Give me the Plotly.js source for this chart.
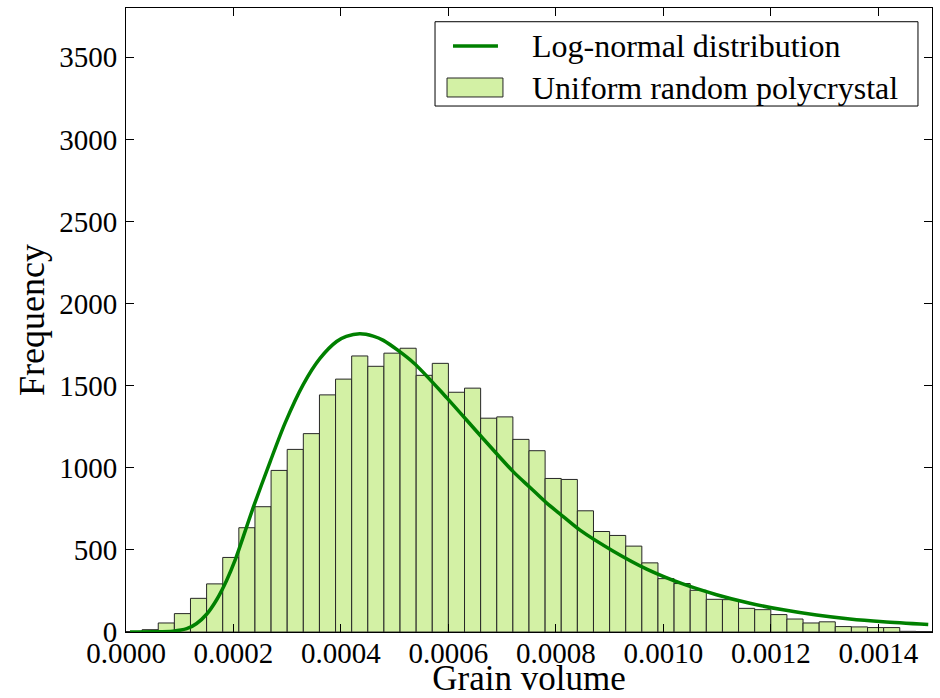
<!DOCTYPE html>
<html>
<head>
<meta charset="utf-8">
<script src="https://cdn.plot.ly/plotly-3.0.1.min.js"></script>
<style>
html,body{margin:0;padding:0;background:#fff;}
#chart{width:940px;height:698px;}
</style>
</head>
<body>
<div id="chart"></div>
<script>
// Histogram bins (centres of 0.00003-wide bins) and counts
const binCenters = [
  0.000015,0.000045,0.000075,0.000105,0.000135,0.000165,0.000195,0.000225,0.000255,0.000285,
  0.000315,0.000345,0.000375,0.000405,0.000435,0.000465,0.000495,0.000525,0.000555,0.000585,
  0.000615,0.000645,0.000675,0.000705,0.000735,0.000765,0.000795,0.000825,0.000855,0.000885,
  0.000915,0.000945,0.000975,0.001005,0.001035,0.001065,0.001095,0.001125,0.001155,0.001185,
  0.001215,0.001245,0.001275,0.001305,0.001335,0.001365,0.001395,0.001425,0.001455,0.001485
];
const binWidth = 0.00003;
const counts = [
  3,14,55,112,205,293,454,635,763,984,
  1112,1208,1444,1540,1681,1618,1698,1728,1563,1636,
  1460,1485,1302,1310,1173,1104,935,929,738,612,
  588,523,421,325,295,254,199,197,144,136,
  106,79,55,62,33,31,27,27,4,3
];

// Log-normal fit curve
const curveX = [
  0.0000074,0.00005,0.0000875,0.000113,0.0001315,0.00015,0.000169,0.000187,0.000203,
  0.000237,0.000268,0.000296,0.000330,0.000361,0.000392,0.000410,0.000435,0.000460,0.000479,0.000535,
  0.000597,0.000659,0.000721,0.000752,0.000783,0.000807,0.000845,0.000907,0.000969,
  0.001035,0.001099,0.001161,0.001223,0.001285,0.001347,0.001409,0.001493
];
const curveY = [
  0,1,5,20,52,108,198,312,437,
  760,1035,1272,1508,1666,1769,1800,1816,1802,1776,1640,
  1426,1198,975,880,785,721,620,492,383,
  294,227,175,135,103,79,62,45
];

const xTickVals = [0,0.0002,0.0004,0.0006,0.0008,0.0010,0.0012,0.0014];
const yTickVals = [0,500,1000,1500,2000,2500,3000,3500];
const legendLabels = ['Log-normal distribution', 'Uniform random polycrystal'];

const serif = 'Liberation Serif, Times New Roman, serif';
const lineGreen = '#008000';
const barFill = '#d3f1a5';
const barEdge = '#262626';

const traces = [
  {
    type: 'scatter', mode: 'lines', name: legendLabels[0],
    x: curveX, y: curveY,
    line: {color: lineGreen, width: 3.5, shape: 'spline', smoothing: 0.8},
    hoverinfo: 'skip', showlegend: false
  },
  {
    type: 'bar', name: legendLabels[1],
    x: binCenters, y: counts, width: binWidth,
    marker: {color: barFill, line: {color: barEdge, width: 1}},
    hoverinfo: 'skip', showlegend: false
  }
];

const layout = {
  width: 940, height: 698,
  margin: {l: 126, r: 8, t: 8, b: 66, pad: 0},
  paper_bgcolor: '#ffffff', plot_bgcolor: '#ffffff',
  showlegend: false,
  bargap: 0,
  font: {family: serif, color: '#000', size: 29},
  xaxis: {
    range: [0, 0.0015],
    tickmode: 'array', tickvals: xTickVals,
    ticktext: xTickVals.map(v => v.toFixed(4)),
    ticks: 'inside', ticklen: 8, tickwidth: 1, tickcolor: '#000',
    ticklabelstandoff: -5,
    showline: true, linecolor: '#000', linewidth: 1, mirror: 'ticks',
    showgrid: false, zeroline: false,
    tickfont: {family: serif, size: 29, color: '#000'},
    title: {text: 'Grain volume', font: {family: serif, size: 35, color: '#000'}, standoff: 20}
  },
  yaxis: {
    range: [0, 3800],
    tickmode: 'array', tickvals: yTickVals,
    ticktext: yTickVals.map(v => String(v)),
    ticks: 'inside', ticklen: 8, tickwidth: 1, tickcolor: '#000',
    ticklabelstandoff: 2,
    showline: true, linecolor: '#000', linewidth: 1, mirror: 'ticks',
    showgrid: false, zeroline: false,
    tickfont: {family: serif, size: 29, color: '#000'},
    title: {text: 'Frequency', font: {family: serif, size: 36, color: '#000'}, standoff: 3}
  },
  // legend drawn as a framed box in plot-area fractions
  shapes: [
    {type: 'rect', xref: 'paper', yref: 'paper', x0: 0.3834, x1: 0.9826, y0: 0.8429, y1: 0.978,
     line: {color: '#000', width: 1}, fillcolor: '#ffffff', layer: 'above'},
    {type: 'line', xref: 'paper', yref: 'paper', x0: 0.4057, x1: 0.4615, y0: 0.9391, y1: 0.9391,
     line: {color: lineGreen, width: 3.5}, layer: 'above'},
    {type: 'rect', xref: 'paper', yref: 'paper', x0: 0.3983, x1: 0.4677, y0: 0.8574, y1: 0.8878,
     line: {color: barEdge, width: 1}, fillcolor: barFill, layer: 'above'}
  ],
  annotations: [
    {xref: 'paper', yref: 'paper', x: 0.5012, y: 0.9391, xanchor: 'left', yanchor: 'middle',
     text: legendLabels[0], showarrow: false, font: {family: serif, size: 32, color: '#000'}},
    {xref: 'paper', yref: 'paper', x: 0.5012, y: 0.8718, xanchor: 'left', yanchor: 'middle',
     text: legendLabels[1], showarrow: false, font: {family: serif, size: 32, color: '#000'}}
  ]
};

Plotly.newPlot('chart', traces, layout, {displayModeBar: false, staticPlot: true});
</script>
</body>
</html>
